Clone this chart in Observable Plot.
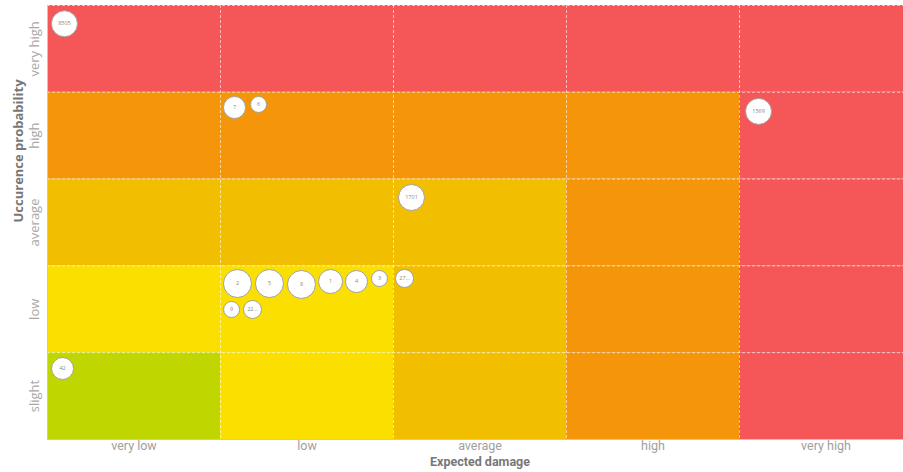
<!DOCTYPE html>
<html>
<head>
<meta charset="utf-8">
<script src="https://cdn.jsdelivr.net/npm/d3@7"></script>
<script src="https://cdn.jsdelivr.net/npm/@observablehq/plot@0.6"></script>
<style>
  html, body { margin: 0; padding: 0; background: #fff; overflow: hidden; }
  #chart { width: 903px; height: 472px; overflow: hidden; }
  #chart svg { display: block; max-width: none !important; }
</style>
</head>
<body>
<div id="chart"></div>
<script>
// Categories
const damage = ["very low", "low", "average", "high", "very high"];
const probability = ["slight", "low", "average", "high", "very high"];

// Risk level per cell: rows = probability (slight → very high), cols = damage
const riskMatrix = [
  ["minimal", "low", "medium", "high", "critical"],
  ["low", "low", "medium", "high", "critical"],
  ["medium", "medium", "medium", "high", "critical"],
  ["high", "high", "high", "high", "critical"],
  ["critical", "critical", "critical", "critical", "critical"]
];
const riskLevels = ["minimal", "low", "medium", "high", "critical"];
const riskColors = ["#bfd600", "#fbdf00", "#f2be00", "#f5950a", "#f55657"];

// Bubbles (position in damage/probability units, size in px radius)
const bubbleLabels = ["8505", "7", "6", "1569", "1701", "2", "5", "8", "1", "4", "3", "27...", "9", "22...", "42"];
const bubbleX = [0.098, 1.081, 1.220, 4.110, 2.104, 1.098, 1.283, 1.468, 1.636, 1.786, 1.919, 2.064, 1.064, 1.185, 0.087];
const bubbleY = [4.79, 3.825, 3.86, 3.78, 2.788, 1.797, 1.797, 1.786, 1.820, 1.820, 1.855, 1.855, 1.498, 1.498, 0.818];
const bubbleSize = [13, 11, 8, 13, 13, 14, 14, 14, 12, 11, 8, 9, 8, 9, 11];

const cells = [];
riskMatrix.forEach((row, yi) => row.forEach((lvl, xi) => cells.push({xi, yi, lvl})));
const bubbles = bubbleLabels.map((label, i) => ({label, x: bubbleX[i], y: bubbleY[i], r: bubbleSize[i]}));

const narrow = "'Liberation Sans Narrow', 'Roboto', sans-serif";

const chart = Plot.plot({
  width: 912,
  height: 472,
  marginLeft: 47,
  marginRight: 0,
  marginTop: 5,
  marginBottom: 33,
  style: {fontFamily: "'Open Sans', sans-serif", background: "transparent", maxWidth: "none"},
  x: {type: "linear", domain: [0, 5]},
  y: {type: "linear", domain: [0, 5]},
  r: {type: "linear", domain: [0, 14], range: [0, 14]},
  color: {type: "ordinal", domain: riskLevels, range: riskColors},
  marks: [
    Plot.rect(cells, {x1: d => d.xi, x2: d => d.xi + 1, y1: d => d.yi, y2: d => d.yi + 1, fill: d => d.lvl}),
    Plot.ruleX([1, 2, 3, 4], {stroke: "#fff", strokeOpacity: 0.6, strokeDasharray: "3,2"}),
    Plot.ruleY([1, 2, 3, 4, 5], {stroke: "#fff", strokeOpacity: 0.6, strokeDasharray: "3,2"}),
    Plot.ruleX([0], {stroke: "#c8c8c8"}),
    Plot.ruleY([0], {stroke: "#c8c8c8"}),
    Plot.dot(bubbles, {x: "x", y: "y", r: "r", fill: "#fff", stroke: "#a0a0a0", strokeWidth: 1}),
    Plot.text(bubbles, {x: "x", y: "y", text: "label", fontSize: 5.5, fill: "#888"}),
    Plot.axisX({ticks: [0.5, 1.5, 2.5, 3.5, 4.5], tickFormat: d => damage[Math.floor(d)], tickSize: 0, tickPadding: 2, fontSize: 12.5, color: "#a0a0a0", label: null, fontFamily: narrow}),
    Plot.axisY({ticks: [], label: null}),
    Plot.text(probability, {x: 0, y: (d, i) => i + 0.5, text: d => d, rotate: -90, dx: -13, fontSize: 13, fill: "#a8a8a8"}),
    Plot.text(["Expected damage"], {frameAnchor: "bottom", dy: 26, fontSize: 12.5, fontWeight: "bold", fill: "#777", fontFamily: narrow}),
    Plot.text(["Uccurence probability"], {frameAnchor: "left", dx: -29, rotate: -90, fontSize: 13, fontWeight: "bold", fill: "#777"})
  ]
});
document.getElementById("chart").appendChild(chart);
</script>
</body>
</html>
